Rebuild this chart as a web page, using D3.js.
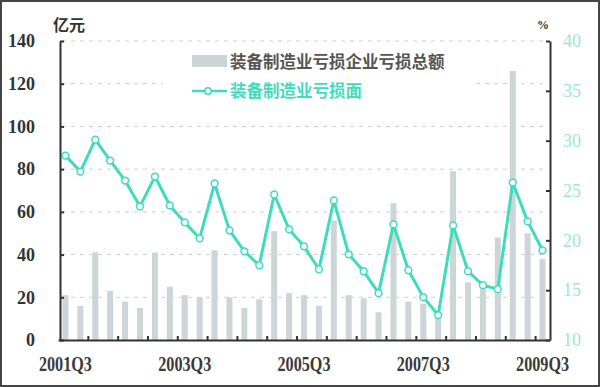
<!DOCTYPE html>
<html lang="zh">
<head>
<meta charset="UTF-8">
<title>装备制造业亏损</title>
<style>
  body { margin: 0; background: #fff; }
  svg { display: block; }
</style>
</head>
<body>
<div id="chart"></div>
<script src="https://d3js.org/d3.v7.min.js"></script>
<script>
// quarters 2001Q3 .. 2009Q3
const quarters = [
  "2001Q3","2001Q4","2002Q1","2002Q2","2002Q3","2002Q4","2003Q1","2003Q2",
  "2003Q3","2003Q4","2004Q1","2004Q2","2004Q3","2004Q4","2005Q1","2005Q2",
  "2005Q3","2005Q4","2006Q1","2006Q2","2006Q3","2006Q4","2007Q1","2007Q2",
  "2007Q3","2007Q4","2008Q1","2008Q2","2008Q3","2008Q4","2009Q1","2009Q2",
  "2009Q3"
];
// 亏损总额 (亿元)
const lossTotal = [21, 16, 41, 23, 18, 15, 41, 25, 21, 20, 42, 20, 15, 19, 51, 22,
                   21, 16, 56, 21, 19.5, 13, 64, 18, 17, 11.5, 79, 27, 25, 48, 126, 50, 38];
// 亏损面 (%)
const lossRatio = [28.5, 26.9, 30.1, 28.0, 26.0, 23.4, 26.4, 23.5, 21.8, 20.2, 25.7, 21.0,
                   18.9, 17.5, 24.6, 21.1, 19.4, 17.1, 24.0, 18.6, 16.9, 14.7, 21.6, 17.0,
                   14.3, 12.5, 21.5, 16.9, 15.5, 15.1, 25.8, 21.9, 19.0];
const xLabels = ["2001Q3", "2003Q3", "2005Q3", "2007Q3", "2009Q3"];
const leftTicks = [0, 20, 40, 60, 80, 100, 120, 140];
const rightTicks = [10, 15, 20, 25, 30, 35, 40];
const legendNames = ["装备制造业亏损企业亏损总额", "装备制造业亏损面"];

const W = 600, H = 387;
const barColor = "#cdd6d6";
const lineColor = "#3edcbe";
const serif = "'Liberation Serif', 'DejaVu Serif', serif";
const cjk = "'Noto Sans CJK SC', sans-serif";

const svg = d3.select("#chart").append("svg")
  .attr("width", W).attr("height", H);

svg.append("rect").attr("width", W).attr("height", H).attr("fill", "#fff");

const x = d3.scaleBand().domain(quarters).range([58, 550]);
const xi = d3.scaleLinear().domain([0, quarters.length]).range([58, 550]);
const yL = d3.scaleLinear().domain([0, 140]).range([340, 41]);
const yR = d3.scaleLinear().domain([10, 40]).range([340, 41]);

// gridlines
svg.append("g").selectAll("line")
  .data(leftTicks.slice(1))
  .enter().append("line")
  .attr("x1", 62).attr("x2", 548)
  .attr("y1", d => yL(d)).attr("y2", d => yL(d))
  .attr("stroke", "#cfcfcf").attr("stroke-width", 1)
  .attr("stroke-dasharray", "4,5");

// bars
svg.append("g").selectAll("rect")
  .data(lossTotal)
  .enter().append("rect")
  .attr("x", (d, i) => x(quarters[i]) + x.bandwidth() / 2 - 3)
  .attr("width", 6)
  .attr("y", d => yL(d))
  .attr("height", d => yL(0) - yL(d))
  .attr("fill", barColor);

// legend (white box hides the grid behind it)
const lg = svg.append("g");
lg.append("rect").attr("x", 163).attr("y", 47).attr("width", 312).attr("height", 56).attr("fill", "#fff");
lg.append("rect").attr("x", 192).attr("y", 55).attr("width", 35).attr("height", 12).attr("fill", barColor);
lg.append("text").attr("x", 230).attr("y", 62).attr("dy", "0.36em")
  .style("font-family", cjk).style("font-weight", "bold").style("font-size", "16.5px")
  .attr("fill", "#555").text(legendNames[0]);
lg.append("line").attr("x1", 192).attr("x2", 227).attr("y1", 91).attr("y2", 91)
  .attr("stroke", lineColor).attr("stroke-width", 2.5);
lg.append("circle").attr("cx", 208).attr("cy", 91).attr("r", 3.2)
  .attr("fill", "#fff").attr("stroke", lineColor).attr("stroke-width", 1.5);
lg.append("text").attr("x", 230).attr("y", 91).attr("dy", "0.36em")
  .style("font-family", cjk).style("font-weight", "bold").style("font-size", "16.5px")
  .attr("fill", lineColor).text(legendNames[1]);

// line
const line = d3.line()
  .x((d, i) => x(quarters[i]) + x.bandwidth() / 2)
  .y(d => yR(d));
svg.append("path").datum(lossRatio)
  .attr("d", line).attr("fill", "none")
  .attr("stroke", lineColor).attr("stroke-width", 3).attr("stroke-linejoin", "round");
svg.append("g").selectAll("circle")
  .data(lossRatio)
  .enter().append("circle")
  .attr("cx", (d, i) => x(quarters[i]) + x.bandwidth() / 2)
  .attr("cy", d => yR(d))
  .attr("r", 3.4)
  .attr("fill", "#fff").attr("stroke", lineColor).attr("stroke-width", 1.5);

// axes
const axL = svg.append("g").attr("transform", "translate(60,0)")
  .call(d3.axisLeft(yL).tickValues(leftTicks).tickSize(-4).tickPadding(25).tickSizeOuter(0));
axL.select(".domain").attr("stroke", "#333").attr("stroke-width", 2);
axL.selectAll(".tick line").attr("stroke", "#333").attr("stroke-width", 2);
axL.selectAll(".tick text")
  .style("font-family", serif).style("font-weight", "bold").style("font-size", "18px")
  .attr("fill", "#333");

const axR = svg.append("g").attr("transform", "translate(550,0)")
  .call(d3.axisRight(yR).tickValues(rightTicks).tickSize(-4).tickPadding(13).tickSizeOuter(0));
axR.select(".domain").attr("stroke", "#333").attr("stroke-width", 2);
axR.selectAll(".tick line").attr("stroke", "#333").attr("stroke-width", 2);
axR.selectAll(".tick text")
  .style("font-family", serif).style("font-size", "18px")
  .attr("fill", "#9ce6d4");

const axB = svg.append("g").attr("transform", "translate(0,340)")
  .call(d3.axisBottom(xi).tickValues(d3.range(2, quarters.length, 2)).tickSize(-4).tickFormat("").tickSizeOuter(0));
axB.select(".domain").attr("stroke", "#333").attr("stroke-width", 2);
axB.selectAll(".tick line").attr("stroke", "#333").attr("stroke-width", 2);

const axBL = svg.append("g").attr("transform", "translate(0,340)")
  .call(d3.axisBottom(x).tickValues(xLabels).tickSize(0).tickPadding(17));
axBL.select(".domain").remove();
axBL.selectAll(".tick text")
  .style("font-family", serif).style("font-weight", "bold").style("font-size", "20px")
  .attr("textLength", 53).attr("lengthAdjust", "spacingAndGlyphs")
  .attr("fill", "#3a3a3a");

// unit labels
svg.append("text").attr("x", 53).attr("y", 25).attr("dy", "0.36em")
  .style("font-family", cjk).style("font-weight", "bold").style("font-size", "16px")
  .attr("fill", "#333").text("亿元");
svg.append("text").attr("x", 543).attr("y", 25).attr("dy", "0.36em")
  .attr("text-anchor", "middle")
  .style("font-family", serif).style("font-weight", "bold").style("font-size", "12px")
  .attr("fill", "#333").text("%");

// frame
svg.append("rect").attr("x", 1).attr("y", 1).attr("width", W - 2).attr("height", H - 2)
  .attr("fill", "none").attr("stroke", "#444").attr("stroke-width", 2);
</script>
</body>
</html>
